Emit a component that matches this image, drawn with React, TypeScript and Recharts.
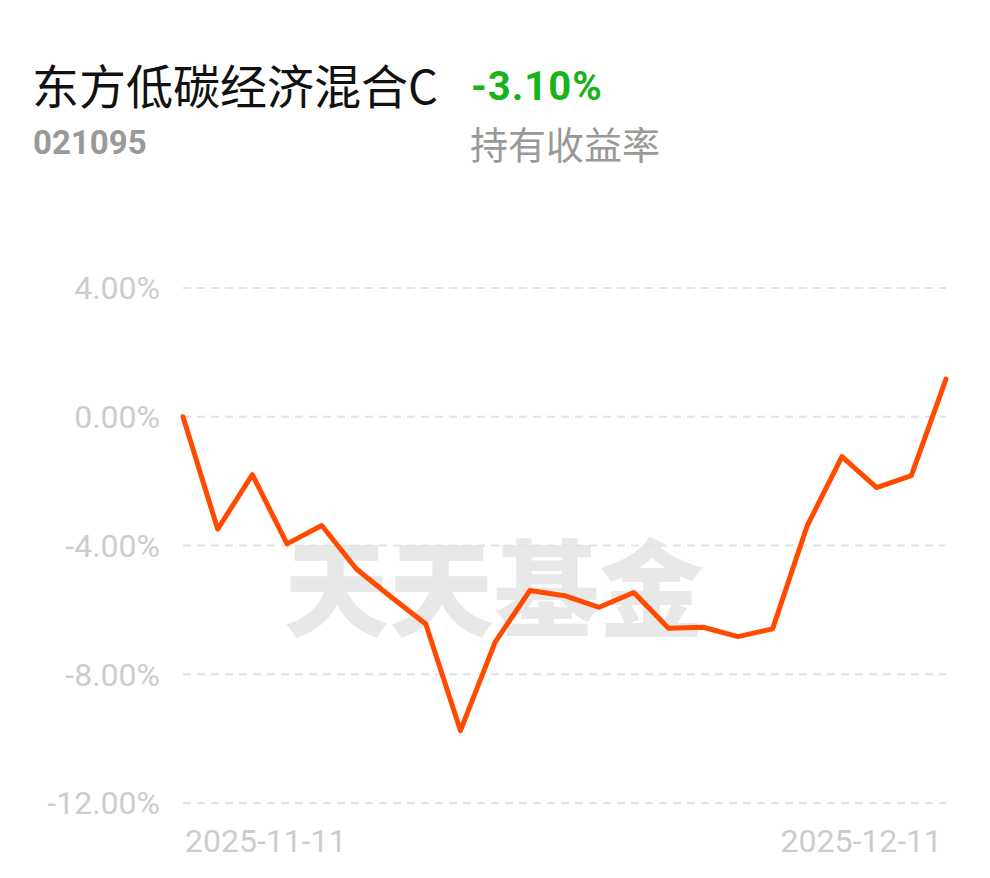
import React from 'react';
import { LineChart, Line, XAxis, YAxis, CartesianGrid } from 'recharts';

const dates = [
  '2025-11-11', '2025-11-12', '2025-11-13', '2025-11-14', '2025-11-17', '2025-11-18',
  '2025-11-19', '2025-11-20', '2025-11-21', '2025-11-24', '2025-11-25', '2025-11-26',
  '2025-11-27', '2025-11-28', '2025-12-01', '2025-12-02', '2025-12-03', '2025-12-04',
  '2025-12-05', '2025-12-08', '2025-12-09', '2025-12-10', '2025-12-11',
];
const returns = [
  0.0, -3.49, -1.8, -3.95, -3.38, -4.73, -5.6, -6.44, -9.75, -7.0, -5.4, -5.56,
  -5.92, -5.46, -6.57, -6.54, -6.83, -6.59, -3.38, -1.24, -2.2, -1.83, 1.17,
];
const yTicks = [-12, -8, -4, 0, 4];
const xTicks = [dates[0], dates[dates.length - 1]];

const fundName = '东方低碳经济混合C';
const fundCode = '021095';
const holdReturn = '-3.10%';
const holdLabel = '持有收益率';
const watermark = '天天基金';

const data = dates.map((d, i) => ({ date: d, value: returns[i] }));

const XTick = (props: any) => {
  const { x, y, payload } = props;
  const isFirst = payload.value === dates[0];
  return (
    <text
      x={isFirst ? x + 2 : x - 4}
      y={y}
      dy="0.71em"
      textAnchor={isFirst ? 'start' : 'end'}
      fill="#cccccc"
      fontSize={32}
      fontFamily="Roboto"
    >
      {payload.value}
    </text>
  );
};

export default function App() {
  return (
    <div style={{ position: 'absolute', left: 0, top: 0, width: 990, height: 878, background: '#fff', overflow: 'hidden' }}>
      <svg width={990} height={200} style={{ position: 'absolute', left: 0, top: 0 }}>
        <text x={32} y={104} fontSize={47} fontFamily="'Noto Sans CJK SC'" fill="#111111">{fundName}</text>
        <text x={471} y={100} fontSize={40} fontWeight={700} fontFamily="Roboto" fill="#17b31a" letterSpacing={1}>{holdReturn}</text>
        <text x={33} y={154} fontSize={33} fontWeight={700} fontFamily="Roboto" fill="#999999">{fundCode}</text>
        <text x={470} y={159} fontSize={38} fontFamily="'Noto Sans CJK SC'" fill="#999999">{holdLabel}</text>
      </svg>
      <div
        style={{
          position: 'absolute', left: 284, top: 530, fontSize: 105, lineHeight: 1, fontWeight: 900,
          fontFamily: "'Noto Sans CJK SC'", color: '#e8e8e8', whiteSpace: 'nowrap',
        }}
      >
        {watermark}
      </div>
      <div style={{ position: 'absolute', left: 0, top: 0 }}>
        <LineChart width={990} height={878} data={data} margin={{ top: 288, right: 44, bottom: 25, left: 0 }}>
          <CartesianGrid vertical={false} stroke="#e3e3e3" strokeDasharray="8 6" strokeWidth={2} />
          <XAxis
            dataKey="date"
            ticks={xTicks}
            interval={0}
            axisLine={false}
            tickLine={false}
            tickSize={0}
            tickMargin={26}
            height={50}
            tick={<XTick />}
          />
          <YAxis
            domain={[-12, 4]}
            ticks={yTicks}
            width={183}
            axisLine={false}
            tickLine={false}
            tickSize={0}
            tickMargin={23}
            tickFormatter={(v: number) => `${v.toFixed(2)}%`}
            tick={{ fill: '#cccccc', fontSize: 32, fontFamily: 'Roboto' }}
          />
          <Line
            type="linear"
            dataKey="value"
            stroke="#ff4a00"
            strokeWidth={5}
            dot={false}
            strokeLinejoin="round"
            strokeLinecap="round"
            isAnimationActive={false}
          />
        </LineChart>
      </div>
    </div>
  );
}
